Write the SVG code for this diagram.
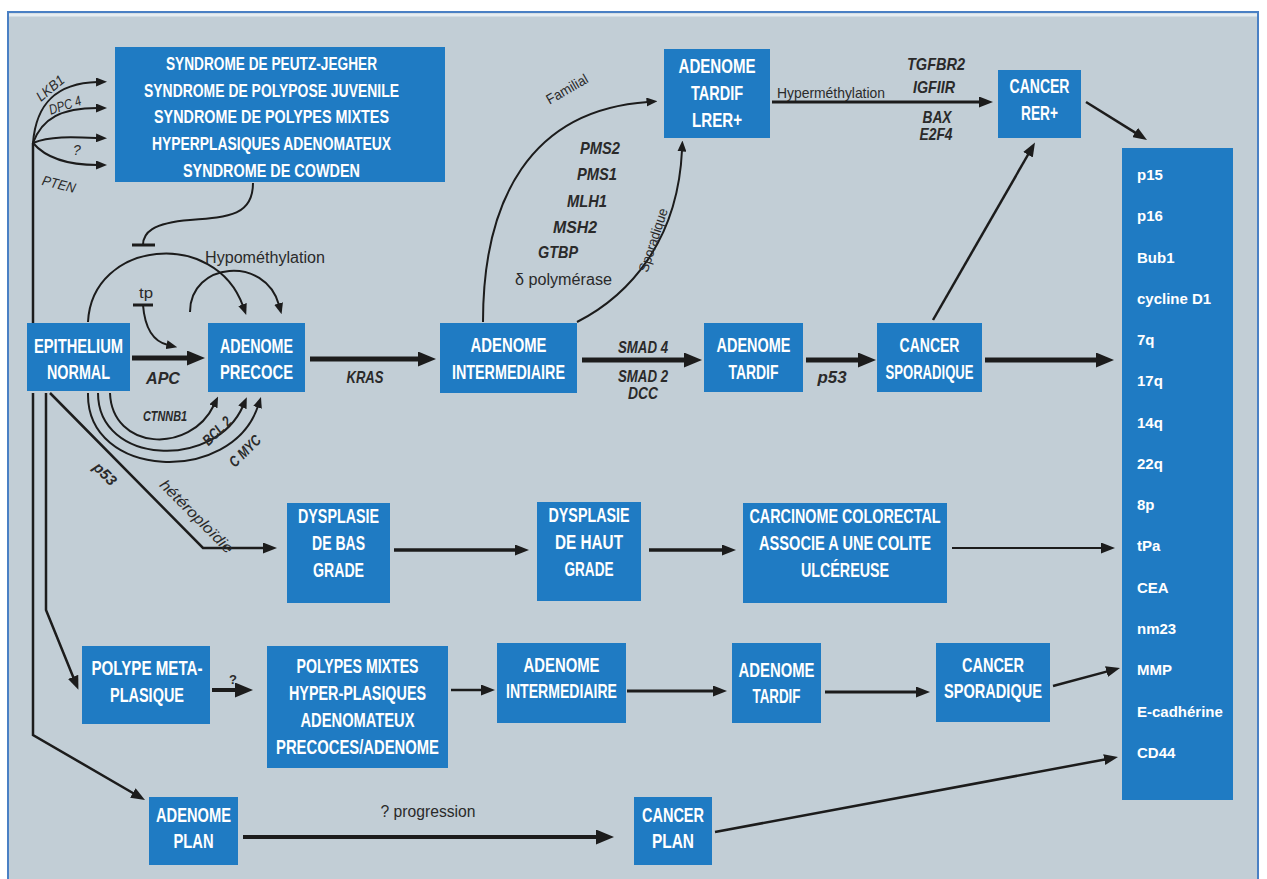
<svg xmlns="http://www.w3.org/2000/svg" width="1267" height="879" viewBox="0 0 1267 879">
<defs>
<style>
.bg{fill:#c2ced6;stroke:#4a80c4;stroke-width:2}
.box{fill:#1f7bc3}
.bt{font-family:"Liberation Sans",Arial,sans-serif;font-weight:bold;font-size:21px;fill:#fff;text-anchor:middle}
.st{font-size:18.5px}
.ct{font-family:"Liberation Sans",Arial,sans-serif;font-weight:bold;font-size:15px;fill:#fff}
.lab{font-family:"Liberation Sans",Arial,sans-serif;font-style:italic;font-weight:bold;font-size:17px;fill:#2a2a2a;text-anchor:middle}
.reg{font-style:normal;font-weight:normal}
.sm{font-size:14px}
.md{font-size:15px}
.ln{fill:none;stroke:#1c1c1c;stroke-width:2}
.w25{stroke-width:2.5}
.w3{stroke-width:3}
.w35{stroke-width:3.5}
.w4{stroke-width:4}
.w5{stroke-width:5}
.ab{marker-end:url(#ab)}
.am{marker-end:url(#am)}
.as{marker-end:url(#as)}
</style>
<marker id="ab" markerUnits="userSpaceOnUse" markerWidth="18" markerHeight="15" refX="2" refY="7.5" orient="auto" viewBox="0 0 18 15"><path d="M0,0 L18,7.5 L0,15 z" fill="#1c1c1c"/></marker>
<marker id="am" markerUnits="userSpaceOnUse" markerWidth="14" markerHeight="11" refX="2" refY="5.5" orient="auto" viewBox="0 0 14 11"><path d="M0,0 L14,5.5 L0,11 z" fill="#1c1c1c"/></marker>
<marker id="as" markerUnits="userSpaceOnUse" markerWidth="11" markerHeight="9" refX="1.5" refY="4.5" orient="auto" viewBox="0 0 11 9"><path d="M0,0 L11,4.5 L0,9 z" fill="#1c1c1c"/></marker>
</defs>
<rect x="0" y="0" width="1267" height="879" fill="#ffffff"/>
<rect class="bg" x="8" y="12" width="1250" height="880"/>
<line x1="9" y1="15" x2="1257" y2="15" stroke="#e6edf2" stroke-width="3"/>

<g id="connectors">
<path class="ln w25" d="M33,323 L33,143"/>
<path class="ln as" d="M33,143 C36,105 55,83 97.5,82"/>
<path class="ln as" d="M33,143 C42,118 62,108 97.5,108"/>
<path class="ln as" d="M33,143 C50,136 72,137 97.5,138"/>
<path class="ln as" d="M33,143 C45,157 65,165 97.5,165"/>
<path class="ln" d="M253,183 C253,215 230,217 190,220 C152,223 143,233 143,245"/>
<path class="ln w3" d="M132,245 L155,245"/>
<path class="ln w3" d="M133,305 L153,305"/>
<path class="ln as" d="M143,305 C145,330 155,342 168,345"/>
<path class="ln as" d="M88,322 C92,240 215,228 243,306"/>
<path class="ln as" d="M190,312 C190,262 265,255 279,305"/>
<path class="ln as" d="M110,393 C112,450 190,455 214,405"/>
<path class="ln as" d="M98,393 C98,465 215,470 243,406"/>
<path class="ln as" d="M88,393 C86,480 232,485 258,406"/>
<path class="ln w5 ab" d="M132,358 L189,358"/>
<path class="ln w5 ab" d="M310,359 L420,359"/>
<path class="ln w5 ab" d="M582,360 L686,360"/>
<path class="ln w5 ab" d="M806,360 L860,360"/>
<path class="ln w5 ab" d="M985,360 L1098,360"/>
<path class="ln as" d="M483,322 C483,200 530,110 648,102"/>
<path class="ln as" d="M577,322 C630,295 678,240 682,150"/>
<path class="ln w3 am" d="M772,102 L981,102"/>
<path class="ln w25 am" d="M1086,102 L1136.8,133.6"/>
<path class="ln w25 am" d="M933,320 L1029,153"/>
<path class="ln w25 am" d="M50,393 L203,548 L265,548"/>
<path class="ln w35 am" d="M394,550 L517,550"/>
<path class="ln w35 am" d="M649,550 L724,550"/>
<path class="ln am" d="M952,548 L1103,548"/>
<path class="ln w25 am" d="M46,393 L46,610 L73.9,678.7"/>
<path class="ln w25 am" d="M33,393 L33,735 L134.6,794"/>
<path class="ln w4 ab" d="M212,690 L237,690"/>
<path class="ln w25 am" d="M451,690 L483,690"/>
<path class="ln w3 am" d="M627,691 L715,691"/>
<path class="ln w3 am" d="M825,692 L918,692"/>
<path class="ln w25 am" d="M1053,686 L1108.4,671.1"/>
<path class="ln w4 ab" d="M243,837 L598,837"/>
<path class="ln w25 am" d="M715,832 L1106.2,759.2"/>

<text class="lab reg sm" style="font-style:italic" transform="translate(50,88) rotate(-40)" y="5" textLength="32" lengthAdjust="spacingAndGlyphs">LKB1</text>
<text class="lab reg sm" style="font-style:italic" transform="translate(65,105) rotate(-18)" y="5" textLength="33" lengthAdjust="spacingAndGlyphs">DPC 4</text>
<text class="lab reg sm" style="font-style:italic" x="77" y="155">?</text>
<text class="lab reg sm" style="font-style:italic" transform="translate(59,184) rotate(14)" y="5" textLength="34" lengthAdjust="spacingAndGlyphs">PTEN</text>
<text class="lab reg" x="205" y="263" style="text-anchor:start;font-size:16px" textLength="120" lengthAdjust="spacingAndGlyphs">Hypométhylation</text>
<text class="lab reg sm" x="146" y="298" textLength="14" lengthAdjust="spacingAndGlyphs">tp</text>
<text class="lab" x="163" y="384" textLength="34" lengthAdjust="spacingAndGlyphs">APC</text>
<text class="lab md" x="165" y="421" textLength="44" lengthAdjust="spacingAndGlyphs">CTNNB1</text>
<text class="lab md" transform="translate(217,431) rotate(-45)" y="5" textLength="34" lengthAdjust="spacingAndGlyphs">BCL 2</text>
<text class="lab md" transform="translate(245,451) rotate(-45)" y="5" textLength="38" lengthAdjust="spacingAndGlyphs">C MYC</text>
<text class="lab" transform="translate(105,474) rotate(45)" y="5" style="font-size:15px" textLength="26" lengthAdjust="spacingAndGlyphs">p53</text>
<text class="lab reg" style="font-style:italic;font-size:15px" transform="translate(193,520) rotate(45)" y="0" textLength="97" lengthAdjust="spacingAndGlyphs">hétéroploïdie</text>
<text class="lab" x="365" y="383" textLength="37" lengthAdjust="spacingAndGlyphs">KRAS</text>
<text class="lab" x="643" y="353" textLength="50" lengthAdjust="spacingAndGlyphs">SMAD 4</text>
<text class="lab" x="643" y="382" textLength="50" lengthAdjust="spacingAndGlyphs">SMAD 2</text>
<text class="lab" x="643" y="399" textLength="30" lengthAdjust="spacingAndGlyphs">DCC</text>
<text class="lab" x="832" y="383" textLength="29" lengthAdjust="spacingAndGlyphs">p53</text>
<text class="lab reg sm" transform="translate(567,89) rotate(-30)" y="5" textLength="46" lengthAdjust="spacingAndGlyphs">Familial</text>
<text class="lab reg sm" transform="translate(653,240) rotate(-72)" y="5" textLength="66" lengthAdjust="spacingAndGlyphs">Sporadique</text>
<text class="lab" x="580" y="154" style="text-anchor:start" textLength="40" lengthAdjust="spacingAndGlyphs">PMS2</text>
<text class="lab" x="577" y="180" style="text-anchor:start" textLength="40" lengthAdjust="spacingAndGlyphs">PMS1</text>
<text class="lab" x="567" y="207" style="text-anchor:start" textLength="40" lengthAdjust="spacingAndGlyphs">MLH1</text>
<text class="lab" x="553" y="233" style="text-anchor:start" textLength="44" lengthAdjust="spacingAndGlyphs">MSH2</text>
<text class="lab" x="538" y="258" style="text-anchor:start" textLength="40" lengthAdjust="spacingAndGlyphs">GTBP</text>
<text class="lab reg" x="515" y="285" style="text-anchor:start;font-size:16px" textLength="97" lengthAdjust="spacingAndGlyphs">δ polymérase</text>
<text class="lab reg" x="777" y="98" style="text-anchor:start;font-size:15px" textLength="108" lengthAdjust="spacingAndGlyphs">Hyperméthylation</text>
<text class="lab" x="936" y="70" textLength="58" lengthAdjust="spacingAndGlyphs">TGFBR2</text>
<text class="lab" x="934" y="93" textLength="42" lengthAdjust="spacingAndGlyphs">IGFIIR</text>
<text class="lab" x="937" y="123" textLength="29" lengthAdjust="spacingAndGlyphs">BAX</text>
<text class="lab" x="936" y="140" textLength="33" lengthAdjust="spacingAndGlyphs">E2F4</text>
<text class="lab reg sm" x="233" y="684" style="font-weight:bold;font-size:13px">?</text>
<text class="lab reg" x="428" y="817" style="font-size:16px" textLength="95" lengthAdjust="spacingAndGlyphs">? progression</text>
</g>

<g id="n-syndromes">
<rect class="box" x="115" y="47" width="330" height="135"/>
<text class="bt st" x="271.5" y="70" textLength="211" lengthAdjust="spacingAndGlyphs">SYNDROME DE PEUTZ-JEGHER</text>
<text class="bt st" x="271.5" y="96.7" textLength="255" lengthAdjust="spacingAndGlyphs">SYNDROME DE POLYPOSE JUVENILE</text>
<text class="bt st" x="271.5" y="123.3" textLength="235" lengthAdjust="spacingAndGlyphs">SYNDROME DE POLYPES MIXTES</text>
<text class="bt st" x="271.5" y="150" textLength="239" lengthAdjust="spacingAndGlyphs">HYPERPLASIQUES ADENOMATEUX</text>
<text class="bt st" x="271.5" y="176.7" textLength="177" lengthAdjust="spacingAndGlyphs">SYNDROME DE COWDEN</text>
</g>

<g id="n-adenome-tardif-lrer">
<rect class="box" x="664" y="49" width="106" height="89"/>
<text class="bt" x="717" y="73" textLength="77" lengthAdjust="spacingAndGlyphs">ADENOME</text>
<text class="bt" x="717" y="100" textLength="52" lengthAdjust="spacingAndGlyphs">TARDIF</text>
<text class="bt" x="717" y="127" textLength="50" lengthAdjust="spacingAndGlyphs">LRER+</text>
</g>

<g id="n-cancer-rer">
<rect class="box" x="998" y="70" width="83" height="68"/>
<text class="bt" x="1039.5" y="93" textLength="60" lengthAdjust="spacingAndGlyphs">CANCER</text>
<text class="bt" x="1039.5" y="120" textLength="37" lengthAdjust="spacingAndGlyphs">RER+</text>
</g>

<g id="n-markers">
<rect class="box" x="1122" y="148" width="111" height="652"/>
<text class="ct" x="1137" y="180">p15</text>
<text class="ct" x="1137" y="221">p16</text>
<text class="ct" x="1137" y="262.5">Bub1</text>
<text class="ct" x="1137" y="304">cycline D1</text>
<text class="ct" x="1137" y="345">7q</text>
<text class="ct" x="1137" y="386">17q</text>
<text class="ct" x="1137" y="427.5">14q</text>
<text class="ct" x="1137" y="469">22q</text>
<text class="ct" x="1137" y="510">8p</text>
<text class="ct" x="1137" y="551">tPa</text>
<text class="ct" x="1137" y="593">CEA</text>
<text class="ct" x="1137" y="634">nm23</text>
<text class="ct" x="1137" y="675">MMP</text>
<text class="ct" x="1137" y="717">E-cadhérine</text>
<text class="ct" x="1137" y="758">CD44</text>
</g>

<g id="n-epithelium">
<rect class="box" x="27" y="323" width="103" height="68"/>
<text class="bt" x="78.5" y="353" textLength="89" lengthAdjust="spacingAndGlyphs">EPITHELIUM</text>
<text class="bt" x="78.5" y="379" textLength="63" lengthAdjust="spacingAndGlyphs">NORMAL</text>
</g>

<g id="n-adenome-precoce">
<rect class="box" x="208" y="323" width="97" height="69"/>
<text class="bt" x="256.5" y="353" textLength="73" lengthAdjust="spacingAndGlyphs">ADENOME</text>
<text class="bt" x="256.5" y="379" textLength="73" lengthAdjust="spacingAndGlyphs">PRECOCE</text>
</g>

<g id="n-adenome-intermediaire">
<rect class="box" x="440" y="323" width="137" height="70"/>
<text class="bt" x="508.5" y="352" textLength="76" lengthAdjust="spacingAndGlyphs">ADENOME</text>
<text class="bt" x="508.5" y="379" textLength="113" lengthAdjust="spacingAndGlyphs">INTERMEDIAIRE</text>
</g>

<g id="n-adenome-tardif">
<rect class="box" x="704" y="323" width="99" height="69"/>
<text class="bt" x="753.5" y="352" textLength="74" lengthAdjust="spacingAndGlyphs">ADENOME</text>
<text class="bt" x="753.5" y="379" textLength="50" lengthAdjust="spacingAndGlyphs">TARDIF</text>
</g>

<g id="n-cancer-sporadique">
<rect class="box" x="877" y="323" width="105" height="69"/>
<text class="bt" x="929.5" y="352" textLength="60" lengthAdjust="spacingAndGlyphs">CANCER</text>
<text class="bt" x="929.5" y="379" textLength="88" lengthAdjust="spacingAndGlyphs">SPORADIQUE</text>
</g>

<g id="n-dysplasie-bas">
<rect class="box" x="287" y="503" width="103" height="100"/>
<text class="bt" x="338.5" y="523" textLength="81" lengthAdjust="spacingAndGlyphs">DYSPLASIE</text>
<text class="bt" x="338.5" y="550" textLength="53" lengthAdjust="spacingAndGlyphs">DE BAS</text>
<text class="bt" x="338.5" y="577" textLength="51" lengthAdjust="spacingAndGlyphs">GRADE</text>
</g>

<g id="n-dysplasie-haut">
<rect class="box" x="537" y="502" width="104" height="99"/>
<text class="bt" x="589" y="522" textLength="81" lengthAdjust="spacingAndGlyphs">DYSPLASIE</text>
<text class="bt" x="589" y="549" textLength="68" lengthAdjust="spacingAndGlyphs">DE HAUT</text>
<text class="bt" x="589" y="576" textLength="49" lengthAdjust="spacingAndGlyphs">GRADE</text>
</g>

<g id="n-carcinome">
<rect class="box" x="743" y="503" width="204" height="100"/>
<text class="bt" x="845" y="523" textLength="191" lengthAdjust="spacingAndGlyphs">CARCINOME COLORECTAL</text>
<text class="bt" x="845" y="550" textLength="172" lengthAdjust="spacingAndGlyphs">ASSOCIE A UNE COLITE</text>
<text class="bt" x="845" y="577" textLength="88" lengthAdjust="spacingAndGlyphs">ULCÉREUSE</text>
</g>

<g id="n-polype-metaplasique">
<rect class="box" x="82" y="646" width="128" height="78"/>
<text class="bt" x="147" y="675" textLength="111" lengthAdjust="spacingAndGlyphs">POLYPE META-</text>
<text class="bt" x="147" y="702" textLength="74" lengthAdjust="spacingAndGlyphs">PLASIQUE</text>
</g>

<g id="n-polypes-mixtes">
<rect class="box" x="267" y="646" width="181" height="122"/>
<text class="bt" x="357.5" y="673" textLength="122" lengthAdjust="spacingAndGlyphs">POLYPES MIXTES</text>
<text class="bt" x="357.5" y="700" textLength="137" lengthAdjust="spacingAndGlyphs">HYPER-PLASIQUES</text>
<text class="bt" x="357.5" y="727" textLength="114" lengthAdjust="spacingAndGlyphs">ADENOMATEUX</text>
<text class="bt" x="357.5" y="754" textLength="163" lengthAdjust="spacingAndGlyphs">PRECOCES/ADENOME</text>
</g>

<g id="n-adenome-intermediaire-2">
<rect class="box" x="497" y="643" width="129" height="80"/>
<text class="bt" x="561.5" y="672" textLength="76" lengthAdjust="spacingAndGlyphs">ADENOME</text>
<text class="bt" x="561.5" y="698" textLength="111" lengthAdjust="spacingAndGlyphs">INTERMEDIAIRE</text>
</g>

<g id="n-adenome-tardif-2">
<rect class="box" x="732" y="643" width="89" height="80"/>
<text class="bt" x="776.5" y="677" textLength="76" lengthAdjust="spacingAndGlyphs">ADENOME</text>
<text class="bt" x="776.5" y="703" textLength="48" lengthAdjust="spacingAndGlyphs">TARDIF</text>
</g>

<g id="n-cancer-sporadique-2">
<rect class="box" x="936" y="643" width="114" height="79"/>
<text class="bt" x="993" y="672" textLength="62" lengthAdjust="spacingAndGlyphs">CANCER</text>
<text class="bt" x="993" y="698" textLength="98" lengthAdjust="spacingAndGlyphs">SPORADIQUE</text>
</g>

<g id="n-adenome-plan">
<rect class="box" x="149" y="797" width="89" height="68"/>
<text class="bt" x="193.5" y="822" textLength="75" lengthAdjust="spacingAndGlyphs">ADENOME</text>
<text class="bt" x="193.5" y="848" textLength="40" lengthAdjust="spacingAndGlyphs">PLAN</text>
</g>

<g id="n-cancer-plan">
<rect class="box" x="634" y="797" width="78" height="68"/>
<text class="bt" x="673" y="822" textLength="62" lengthAdjust="spacingAndGlyphs">CANCER</text>
<text class="bt" x="673" y="848" textLength="42" lengthAdjust="spacingAndGlyphs">PLAN</text>
</g>
</svg>
